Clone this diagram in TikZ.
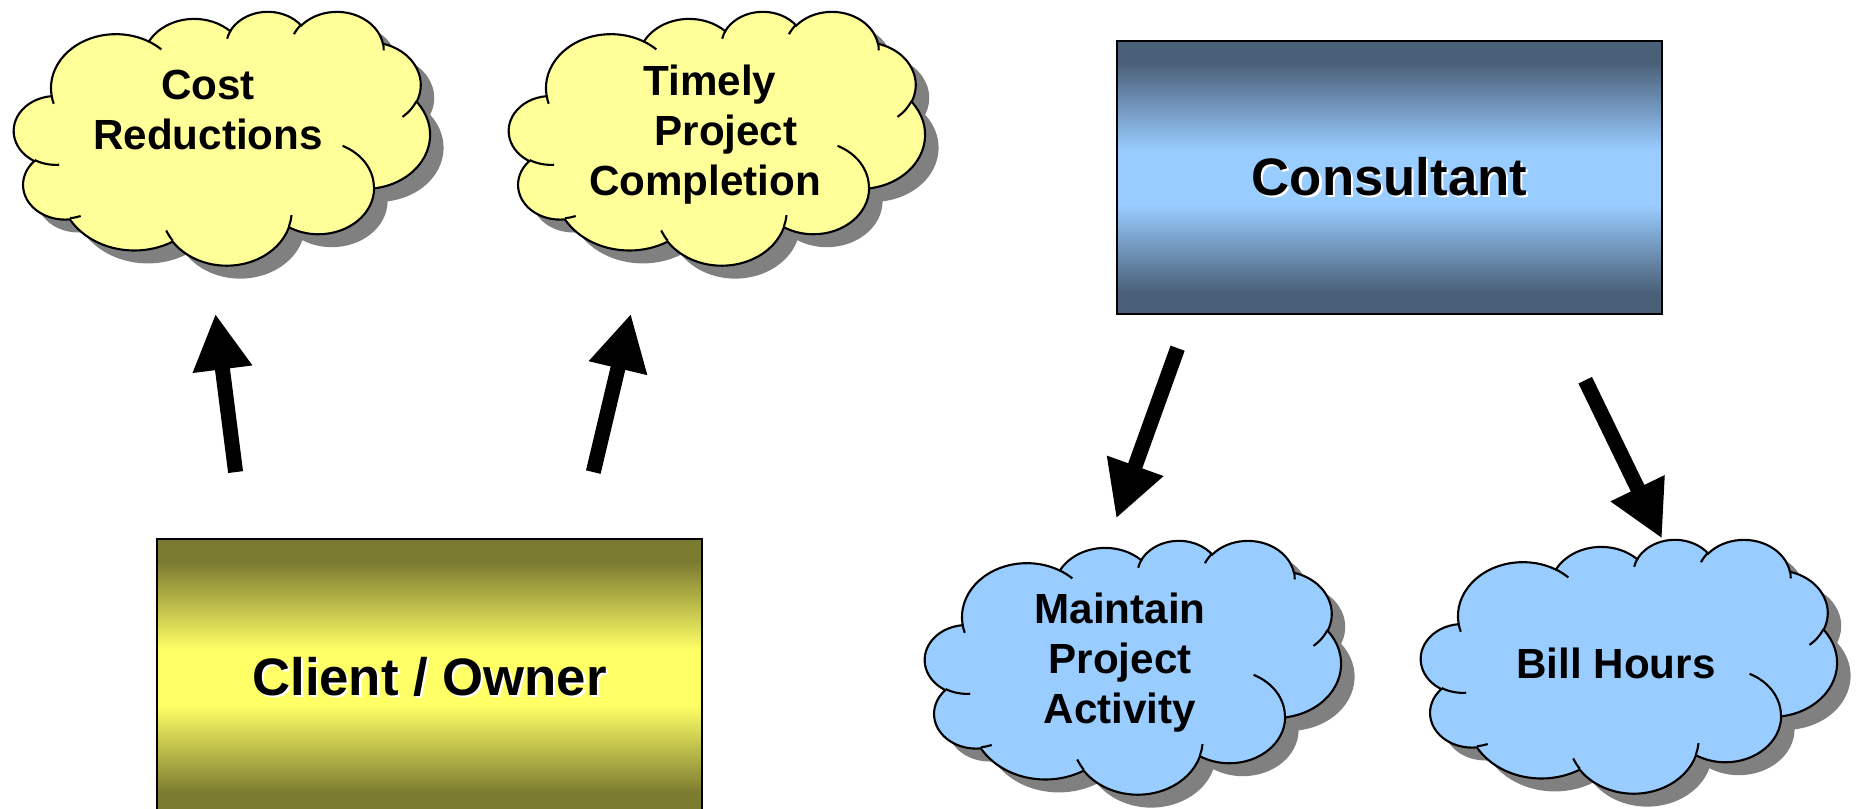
\documentclass[tikz,border=0pt]{standalone}
\usepackage{fontspec}
\setmainfont{Liberation Sans}
\usetikzlibrary{arrows.meta, backgrounds}

\definecolor{cloudyellow}{HTML}{FFFF99}
\definecolor{cloudblue}{HTML}{99CCFF}
\definecolor{slate}{HTML}{4A6079}
\definecolor{skyblue}{HTML}{99CCFF}
\definecolor{boxolive}{HTML}{7A7A30}
\definecolor{lemon}{HTML}{FFFF66}

% dark edges, light band in the middle (only 25bp..75bp lands on the box)
\pgfdeclareverticalshading{consultantshade}{100bp}{color(0bp)=(slate); color(29bp)=(slate);
  color(45bp)=(skyblue); color(55bp)=(skyblue); color(71bp)=(slate); color(100bp)=(slate)}
\pgfdeclareverticalshading{clientshade}{100bp}{color(0bp)=(boxolive); color(29bp)=(boxolive);
  color(45bp)=(lemon); color(55bp)=(lemon); color(71bp)=(boxolive); color(100bp)=(boxolive)}

% angle seen from the centre -> parameter angle of the ellipse
\pgfmathdeclarefunction{vpar}{3}{%
  \begingroup
    \pgfmathparse{#3+mod(atan2(#1*sin(#3),#2*cos(#3))-(#3)+540,360)-180}%
    \pgfmathsmuggle\pgfmathresult
  \endgroup}
\newcommand\pptarc[4]{arc[x radius=#1, y radius=#2, start angle={vpar(#1,#2,#3)}, end angle={vpar(#1,#2,#3+#4)}]}

% cloud outline in a 432 x 432 box, y pointing down
\newcommand\cloudpath{(39.00,143.70)
  \pptarc{67.53}{91.90}{-190.4875}{123.7805}
  \pptarc{53.33}{72.67}{-144.1024}{89.9452}
  \pptarc{43.65}{59.45}{-145.8079}{99.7230}
  \pptarc{48.57}{65.95}{-130.9861}{117.2417}
  \pptarc{53.33}{72.73}{-78.7089}{109.0269}
  \pptarc{67.75}{92.20}{-46.2673}{130.2690}
  \pptarc{57.85}{78.67}{0.6250}{114.0333}
  \pptarc{67.52}{92.15}{22.4516}{115.1726}
  \pptarc{77.20}{105.43}{66.2426}{75.7110}
  \pptarc{43.60}{59.18}{-274.9421}{146.7356}
  \pptarc{43.45}{59.45}{-246.8285}{152.5189} -- cycle}
% the little inner arcs
\newcommand\cloudcreases{
  (46.93,261.77) \pptarc{43.45}{59.45}{86.7420}{26.4295}
  (69.28,348.99) \pptarc{43.60}{59.18}{73.6105}{11.4475}
  (164.78,390.90) \pptarc{67.52}{92.15}{137.6242}{14.0811}
  (288.27,347.51) \pptarc{67.52}{92.15}{6.4533}{15.9984}
  (341.29,229.54) \pptarc{57.85}{78.67}{-70.2924}{70.9174}
  (417.98,153.54) \pptarc{53.33}{72.73}{30.3180}{27.7515}
  (383.24,54.26) \pptarc{48.57}{65.95}{-13.7443}{14.8589}
  (290.78,39.52) \pptarc{48.57}{65.95}{-149.1815}{18.1954}
  (221.41,47.20) \pptarc{43.65}{59.45}{-163.4943}{17.6864}
  (140.00,51.92) \pptarc{67.53}{91.90}{-66.7070}{12.3194}
  (41.27,157.89) \pptarc{67.53}{91.90}{157.6544}{11.8582}}

% cloud behind a text node: node, x/y offset of the cloud centre, fill
\newcommand\cloudbehind[4]{%
  \begin{scope}[shift={(#1.center)}, shift={(#2-2.08,#3+1.27)}, x=0.00963cm, y=-0.00588cm]
    \fill[cloudshadow, shift={(14,22)}] \cloudpath;
    \draw[fill=#4, line width=0.6pt] \cloudpath;
    \draw[line width=0.6pt] \cloudcreases;
  \end{scope}}

\newcommand\embossed[1]{\rlap{\kern0.6pt\raisebox{-0.6pt}{\color{white}#1}}#1}

\tikzset{
  bigbox/.style={draw=black, line width=0.8pt, minimum width=5.45cm,
    font=\fontsize{15}{18}\selectfont\bfseries},
  cloudtext/.style={align=center, inner sep=0pt,
    font=\fontsize{12}{14.2}\selectfont\bfseries},
  bigarrow/.style={line width=0.15cm, -{Triangle[length=0.56cm, width=0.56cm]}},
  cloudshadow/.style={fill=black!50}
}

\begin{document}
\begin{tikzpicture}
  \useasboundingbox (0,0) rectangle (18.56,8.08);
  \clip (0,0) rectangle (18.56,8.08);

  % boxes
  \node[bigbox, minimum height=2.73cm, shading=consultantshade]
    (consultant) at (13.895,6.305) {\embossed{Consultant}};
  \node[bigbox, minimum height=2.77cm, shading=clientshade]
    (client) at (4.295,1.305) {\embossed{Client / Owner}};

  % cloud texts
  \node[cloudtext] (cost) at (2.08,6.98) {Cost\\Reductions};
  \node[cloudtext] (timely) at (7.05,6.73)
    {\hspace*{0.1cm}Timely\\\hspace*{0.42cm}Project\\Completion};
  \node[cloudtext] (maintain) at (11.20,1.45) {Maintain\\Project\\Activity};
  \node[cloudtext] (bill) at (16.16,1.45) {Bill Hours};

  \begin{scope}[on background layer]
    \cloudbehind{cost}{0.14}{-0.28}{cloudyellow}
    \cloudbehind{timely}{0.12}{-0.03}{cloudyellow}
    \cloudbehind{maintain}{0.13}{-0.04}{cloudblue}
    \cloudbehind{bill}{0.13}{-0.03}{cloudblue}
  \end{scope}

  % arrows
  \draw[bigarrow] ([shift={(0.80,0.655)}]client.north west) -- ([shift={(0.074,-2.037)}]cost.center);
  \draw[bigarrow] ([shift={(-1.101,0.655)}]client.north east) -- ([shift={(-0.741,-1.787)}]timely.center);
  \draw[bigarrow] ([shift={(0.62,-0.328)}]consultant.south west) -- ([shift={(-0.038,1.445)}]maintain.center);
  \draw[bigarrow] ([shift={(-0.782,-0.648)}]consultant.south east) -- ([shift={(0.46,1.244)}]bill.center);
\end{tikzpicture}
\end{document}
